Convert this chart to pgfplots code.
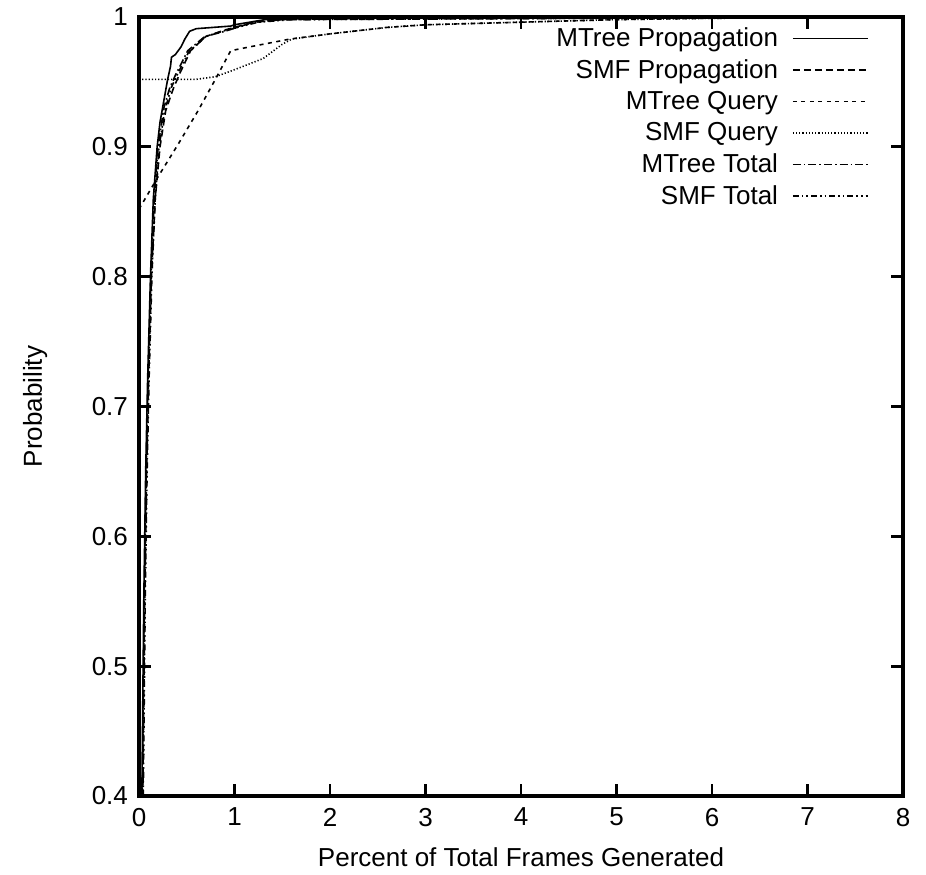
\documentclass[border=0pt]{standalone}
\usepackage{fontspec}
\setmainfont{Liberation Sans}
\usepackage{pgfplots}
\pgfplotsset{compat=1.18}

\newcommand{\gfont}{\fontsize{13}{15}\selectfont}

\begin{document}
\begin{tikzpicture}
\begin{axis}[
    scale only axis, width=382pt, height=389.5pt,
    xmin=0, xmax=8, ymin=0.4, ymax=1,
    xtick={0,1,2,3,4,5,6,7,8},
    ytick={0.4,0.5,0.6,0.7,0.8,0.9,1},
    /pgf/number format/assume math mode=true,
    /pgf/number format/fixed,
    tick label style={font=\gfont},
    x tick label style={yshift=-2.5pt},
    y tick label style={xshift=-2pt},
    label style={font=\gfont},
    xlabel={Percent of Total Frames Generated},
    ylabel={Probability},
    x label style={at={(axis description cs:0.5,-0.0783)}, anchor=center},
    y label style={at={(axis description cs:-0.136,0.5)}, anchor=center},
    tick align=inside, xtick pos=both, ytick pos=both,
    major tick length=6pt,
    every tick/.style={black, line width=1.4pt},
    axis line style={line width=1.6pt},
    axis on top,
    clip=true,
    legend cell align=right,
    legend plot pos=right,
    legend image code/.code={\draw[#1] (0pt,0pt) -- (37.5pt,0pt);},
    legend style={draw=none, fill=none, font=\gfont,
        at={(axis description cs:1,1)}, anchor=north east,
        xshift=-14pt, yshift=-1pt, row sep=1pt, column sep=5pt},
    every axis plot/.append style={line width=0.8pt, black},
]
% MTree Propagation
\addplot[solid] coordinates {
(0.03,0.40) (0.05,0.55) (0.07,0.65) (0.09,0.72) (0.12,0.80) (0.15,0.86)
(0.19,0.90) (0.22,0.919) (0.30,0.952) (0.33,0.962) (0.34,0.969) (0.38,0.971)
(0.44,0.977) (0.48,0.983) (0.53,0.989) (0.60,0.991) (0.96,0.993) (1.00,0.994)
(1.32,0.998) (2.0,0.999) (8.0,1.0)
};
\addlegendentry{MTree Propagation}
% SMF Propagation
\addplot[dash pattern=on 3.5pt off 2pt] coordinates {
(0.04,0.40) (0.06,0.55) (0.08,0.65) (0.10,0.72) (0.13,0.80) (0.17,0.86)
(0.22,0.90) (0.28,0.928) (0.36,0.945) (0.43,0.957) (0.54,0.974) (0.70,0.985)
(0.90,0.990) (1.20,0.996) (1.50,0.998) (2.5,0.999) (8.0,1.0)
};
\addlegendentry{SMF Propagation}
% MTree Query
\addplot[dash pattern=on 2pt off 2.25pt] coordinates {
(0,0.852) (0.20,0.877) (0.41,0.902) (0.62,0.928) (0.80,0.952) (0.96,0.974)
(1.16,0.977) (1.58,0.983) (2.0,0.987) (2.6,0.992) (3.0,0.994) (4.0,0.996)
(5.0,0.998) (6.0,0.999) (8.0,1.0)
};
\addlegendentry{MTree Query}
% SMF Query
\addplot[dash pattern=on 0.6pt off 1pt] coordinates {
(0,0.952) (0.60,0.952) (0.80,0.954) (0.95,0.958) (1.16,0.964) (1.30,0.968)
(1.50,0.979) (1.60,0.983) (2.0,0.987) (2.6,0.992) (3.0,0.994) (4.0,0.996)
(5.0,0.998) (6.0,0.999) (8.0,1.0)
};
\addlegendentry{SMF Query}
% MTree Total
\addplot[dash pattern=on 4pt off 1.5pt on 0.8pt off 1.5pt] coordinates {
(0.035,0.40) (0.055,0.55) (0.075,0.65) (0.095,0.72) (0.125,0.80) (0.16,0.86)
(0.20,0.90) (0.26,0.930) (0.32,0.945) (0.38,0.955) (0.51,0.974) (0.69,0.985)
(0.90,0.989) (1.20,0.996) (1.50,0.998) (8.0,1.0)
};
\addlegendentry{MTree Total}
% SMF Total
\addplot[dash pattern=on 3pt off 1.5pt on 0.8pt off 1.5pt on 0.8pt off 1.5pt] coordinates {
(0.045,0.40) (0.065,0.55) (0.085,0.65) (0.105,0.72) (0.135,0.80) (0.17,0.86)
(0.21,0.90) (0.27,0.928) (0.34,0.946) (0.41,0.957) (0.52,0.973) (0.70,0.985)
(0.92,0.990) (1.25,0.996) (1.60,0.998) (8.0,1.0)
};
\addlegendentry{SMF Total}
\coordinate (sw) at (rel axis cs:0,0);
\coordinate (ne) at (rel axis cs:1,1);
\end{axis}
\pgfresetboundingbox
\path ([shift={(-69.5pt,-39pt)}]sw) rectangle ([shift={(11.5pt,8.5pt)}]ne);
\end{tikzpicture}
\end{document}
